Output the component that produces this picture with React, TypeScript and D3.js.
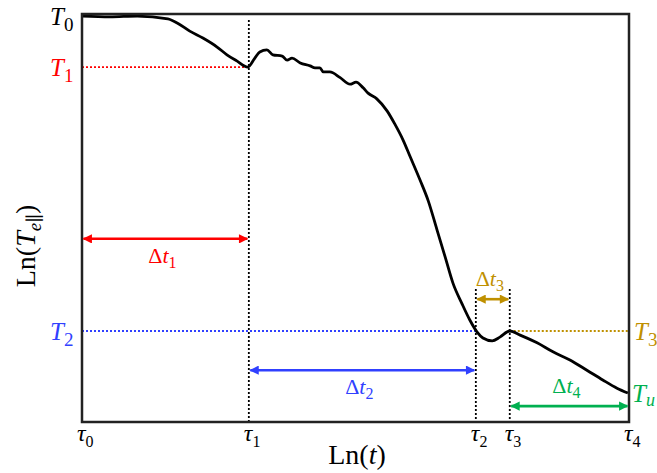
import React, { useEffect, useRef } from "react";
import * as d3 from "d3";

// curve (arbitrary Ln units, 0..10 on both axes)
const lnT = [0, 0.51, 1.01, 1.57, 1.74, 1.97, 2.21, 2.47, 2.65, 2.83, 3.03, 3.16, 3.25, 3.38, 3.49, 3.66, 3.75, 3.84, 3.99, 4.17, 4.26, 4.35, 4.41, 4.53, 4.72, 4.9, 5.01, 5.14, 5.23, 5.39, 5.58, 5.72, 5.87, 6.0, 6.18, 6.33, 6.49, 6.64, 6.78, 6.95, 7.09, 7.22, 7.33, 7.5, 7.64, 7.82, 8.01, 8.32, 8.61, 8.92, 9.23, 9.52, 9.78, 9.98];
const lnTe = [9.95, 9.93, 9.95, 9.88, 9.78, 9.58, 9.41, 9.19, 9.0, 8.85, 8.7, 8.92, 9.07, 9.12, 9.0, 8.97, 8.87, 8.92, 8.8, 8.73, 8.68, 8.68, 8.58, 8.58, 8.44, 8.28, 8.33, 8.19, 8.06, 7.92, 7.62, 7.3, 6.91, 6.5, 5.93, 5.42, 4.71, 4.04, 3.41, 2.89, 2.5, 2.21, 2.06, 1.99, 2.08, 2.23, 2.13, 1.94, 1.72, 1.52, 1.27, 1.03, 0.83, 0.71];

// time marks tau_0..tau_4
const tauNames = ["0", "1", "2", "3", "4"];
const tauValues = [0, 3.05, 7.2, 7.82, 10];

// temperature levels
const levelNames = ["0", "1", "2", "3", "u"];
const levelValues = [9.95, 8.7, 2.23, 2.23, 0.71];
const levelColors = ["#000000", "#ff0000", "#3040ff", "#bf9000", "#00b050"];
const levelSide = ["left", "left", "left", "right", "right"];

// intervals Delta t_1..Delta t_4 (from tau_i to tau_i+1) and the height of the arrow
const spanNames = ["1", "2", "3", "4"];
const spanHeights = [4.49, 1.27, 3.01, 0.39];
const spanColors = ["#ff0000", "#3040ff", "#bf9000", "#00b050"];
const spanLabelBelow = [true, true, false, false];

export default function App() {
  const ref = useRef<SVGSVGElement>(null);

  useEffect(() => {
    const svg = d3.select(ref.current);
    svg.selectAll("*").remove();

    const x = d3.scaleLinear().domain([0, 10]).range([82, 629]);
    const y = d3.scaleLinear().domain([0, 10]).range([422, 14]);
    const serif = "'Liberation Serif', 'DejaVu Serif', serif";

    // arrow heads
    const defs = svg.append("defs");
    spanColors.forEach((c, i) => {
      defs.append("marker")
        .attr("id", "ah" + i)
        .attr("viewBox", "0 0 10 10")
        .attr("refX", 9).attr("refY", 5)
        .attr("markerWidth", 4.2).attr("markerHeight", 3.6)
        .attr("markerUnits", "strokeWidth")
        .attr("orient", "auto-start-reverse")
        .append("path").attr("d", "M0,0 L10,5 L0,10 z").attr("fill", c);
    });

    // dotted level lines
    const hLine = (x0: number, x1: number, v: number, color: string) =>
      svg.append("line")
        .attr("x1", x(x0)).attr("x2", x(x1))
        .attr("y1", y(v)).attr("y2", y(v))
        .attr("stroke", color).attr("stroke-width", 1.8)
        .attr("stroke-dasharray", "2,2");
    hLine(tauValues[0], tauValues[1], levelValues[1], levelColors[1]);
    hLine(tauValues[0], tauValues[2], levelValues[2], levelColors[2]);
    hLine(tauValues[3], tauValues[4], levelValues[3], levelColors[3]);

    // dotted time marks
    const vTop = [9.85, 3.26, 3.26];
    [1, 2, 3].forEach((k, i) => {
      svg.append("line")
        .attr("x1", x(tauValues[k])).attr("x2", x(tauValues[k]))
        .attr("y1", y(vTop[i])).attr("y2", y(0))
        .attr("stroke", "#000").attr("stroke-width", 1.8)
        .attr("stroke-dasharray", "2,2");
    });

    // the curve
    const pts = lnT.map((t, i) => [t, lnTe[i]] as [number, number]);
    svg.append("path")
      .datum(pts)
      .attr("d", d3.line<[number, number]>().x(d => x(d[0])).y(d => y(d[1])).curve(d3.curveMonotoneX))
      .attr("fill", "none")
      .attr("stroke", "#000")
      .attr("stroke-width", 2.8)
      .attr("stroke-linejoin", "round");

    // frame
    svg.append("rect")
      .attr("x", x(0)).attr("y", y(10))
      .attr("width", x(10) - x(0)).attr("height", y(0) - y(10))
      .attr("fill", "none").attr("stroke", "#222").attr("stroke-width", 2.5);

    // interval arrows
    spanNames.forEach((n, i) => {
      const x0 = x(tauValues[i]) + 1.5;
      const x1 = x(tauValues[i + 1]) - 1.5;
      const yy = y(spanHeights[i]);
      svg.append("line")
        .attr("x1", x0).attr("x2", x1).attr("y1", yy).attr("y2", yy)
        .attr("stroke", spanColors[i]).attr("stroke-width", 2.6)
        .attr("marker-start", `url(#ah${i})`).attr("marker-end", `url(#ah${i})`);
      const txt = svg.append("text")
        .attr("x", (x0 + x1) / 2 - 3)
        .attr("y", spanLabelBelow[i] ? yy + 24 : yy - 13)
        .attr("text-anchor", "middle")
        .attr("font-family", serif)
        .attr("font-size", 22)
        .attr("fill", spanColors[i]);
      txt.append("tspan").text("Δ");
      txt.append("tspan").attr("font-style", "italic").text("t");
      txt.append("tspan").attr("font-size", 16).attr("dy", 5).text(n);
    });

    // level labels
    levelNames.forEach((n, i) => {
      const left = levelSide[i] === "left";
      const txt = svg.append("text")
        .attr("x", left ? 50 : (n === "u" ? 632 : 634))
        .attr("y", y(levelValues[i]) + 9)
        .attr("font-family", serif)
        .attr("font-size", 25)
        .attr("fill", levelColors[i]);
      txt.append("tspan").attr("font-style", "italic").text("T");
      txt.append("tspan").attr("font-size", n === "u" ? 18 : 19).attr("dy", n === "u" ? 4 : 6)
        .attr("font-style", n === "u" ? "italic" : "normal").text(n);
    });

    // tau labels
    tauNames.forEach((n, i) => {
      const txt = svg.append("text")
        .attr("x", x(tauValues[i]) - 5)
        .attr("y", 441)
        .attr("font-family", serif)
        .attr("font-size", 24)
        .attr("fill", "#000");
      txt.append("tspan").attr("font-style", "italic").text("τ");
      txt.append("tspan").attr("font-size", 16).attr("dy", 6).text(n);
    });

    // axis titles
    const xt = svg.append("text")
      .attr("x", 357).attr("y", 464)
      .attr("text-anchor", "middle")
      .attr("font-family", serif).attr("font-size", 28);
    xt.append("tspan").text("Ln(");
    xt.append("tspan").attr("font-style", "italic").text("t");
    xt.append("tspan").text(")");

    const yt = svg.append("text")
      .attr("transform", "translate(35,246) rotate(-90)")
      .attr("text-anchor", "middle")
      .attr("font-family", serif).attr("font-size", 28);
    yt.append("tspan").text("Ln(");
    yt.append("tspan").attr("font-style", "italic").text("T");
    yt.append("tspan").attr("font-style", "italic").attr("font-size", 19).attr("dy", 6).text("e");
    yt.append("tspan").attr("font-size", 19).text("∥");
    yt.append("tspan").attr("dy", -6).text(")");
  }, []);

  return (
    <svg ref={ref} width={657} height={473}
      style={{ position: "absolute", left: 0, top: 0, background: "#fff" }} />
  );
}
